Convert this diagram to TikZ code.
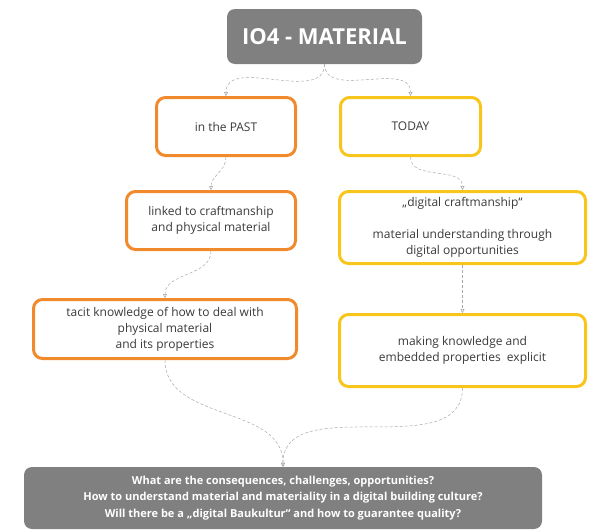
\documentclass[tikz,border=0pt]{standalone}
\usepackage{fontspec}
\setmainfont{Open Sans}
\usetikzlibrary{arrows.meta}
\definecolor{boxorange}{HTML}{F08A2C}
\definecolor{boxyellow}{HTML}{F8C51C}
\definecolor{boxgray}{HTML}{808080}
\definecolor{txtgray}{HTML}{3A3A3A}
\definecolor{linkgray}{HTML}{A8A8A8}
\begin{document}
\begin{tikzpicture}[x=1pt,y=-1pt,
  basebox/.style={line width=3pt, rounded corners=9pt, fill=white, align=center,
    text=txtgray, font=\fontsize{12}{16}\selectfont, inner sep=0pt},
  pastbox/.style={basebox, draw=boxorange},
  todaybox/.style={basebox, draw=boxyellow},
  graybox/.style={fill=boxgray, rounded corners=8pt, text=white, align=center, inner sep=0pt},
  link/.style={draw=linkgray, line width=0.5pt, densely dashed,
    -{Triangle[open, length=4pt, width=4pt, line width=0.5pt]}}
]
\useasboundingbox (0,0) rectangle (590,530);

\node[graybox, minimum width=195pt, minimum height=55pt, font=\fontsize{22}{26}\bfseries] (top) at (324.5,36.5) {IO4 - MATERIAL};

\node[pastbox, minimum width=139pt, minimum height=58pt] (past) at (226,126.5) {in the PAST};
\node[todaybox, minimum width=140pt, minimum height=58pt] (today) at (410.5,126.5) {TODAY};

\node[pastbox, minimum width=169pt, minimum height=58pt] (linked) at (211,220.5) {linked to craftmanship\\and physical material};
\node[pastbox, minimum width=263pt, minimum height=59pt] (tacit) at (165,329) {tacit knowledge of how to deal with\\physical material\\and its properties};

\node[todaybox, minimum width=246pt, minimum height=72pt] (digital) at (462.5,227.5) {„digital craftmanship“\\[16pt]material understanding through\\digital opportunities};
\node[todaybox, minimum width=246pt, minimum height=72pt] (making) at (462.5,350.5) {making knowledge and\\embedded properties\ \ explicit};

\node[graybox, minimum width=518pt, minimum height=62pt, font=\fontsize{11}{16.5}\bfseries] (bottom) at (283,498) {What are the consequences, challenges, opportunities?\\How to understand material and materiality in a digital building culture?\\Will there be a „digital Baukultur“ and how to guarantee quality?};

\draw[link] (top.south) to[out=-90,in=90] (past.north);
\draw[link] (top.south) to[out=-90,in=90] (today.north);
\draw[link] (past.south) to[out=-90,in=90] (linked.north);
\draw[link] (linked.south) to[out=-90,in=90] (tacit.north);
\draw[link] (today.south) to[out=-90,in=90] (digital.north);
\draw[link] (digital.south) -- (making.north);
\draw[link] (tacit.south) to[out=-90,in=90] (bottom.north);
\draw[link] (making.south) to[out=-90,in=90] (bottom.north);
\end{tikzpicture}
\end{document}
